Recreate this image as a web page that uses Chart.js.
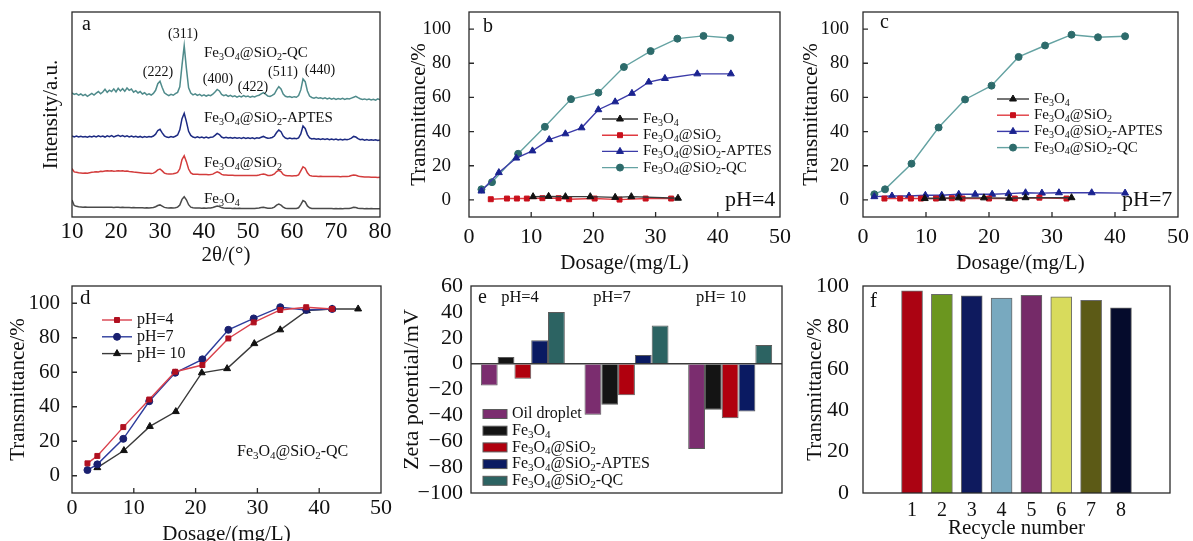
<!DOCTYPE html>
<html>
<head>
<meta charset="utf-8">
<script src="https://cdn.jsdelivr.net/npm/chart.js@4.4.0/dist/chart.umd.min.js"></script>
<style>
  body { margin: 0; background: #fff; width: 1193px; height: 541px; overflow: hidden; position: relative; }
  canvas { position: absolute; }
</style>
</head>
<body>
<canvas id="chartA" width="395" height="280" style="left:0;top:0"></canvas>
<canvas id="chartB" width="395" height="280" style="left:400px;top:0"></canvas>
<canvas id="chartC" width="398" height="280" style="left:795px;top:0"></canvas>
<canvas id="chartD" width="395" height="285" style="left:0;top:270px"></canvas>
<canvas id="chartE" width="395" height="285" style="left:400px;top:270px"></canvas>
<canvas id="chartF" width="398" height="285" style="left:795px;top:270px"></canvas>
<script>
// ---- panel a: XRD patterns (2theta in degrees, stacked intensity) ----
var xrdAngle = [
  10, 10.5, 11, 11.5, 12, 12.5, 13, 13.5, 14, 14.5,
  15, 15.5, 16, 16.5, 17, 17.5, 18, 18.5, 19, 19.5,
  20, 20.5, 21, 21.5, 22, 22.5, 23, 23.5, 24, 24.5,
  25, 25.5, 26, 26.5, 27, 27.5, 28, 28.5, 29, 29.5,
  30, 30.5, 31, 31.5, 32, 32.5, 33, 33.5, 34, 34.5,
  35, 35.5, 36, 36.5, 37, 37.5, 38, 38.5, 39, 39.5,
  40, 40.5, 41, 41.5, 42, 42.5, 43, 43.5, 44, 44.5,
  45, 45.5, 46, 46.5, 47, 47.5, 48, 48.5, 49, 49.5,
  50, 50.5, 51, 51.5, 52, 52.5, 53, 53.5, 54, 54.5,
  55, 55.5, 56, 56.5, 57, 57.5, 58, 58.5, 59, 59.5,
  60, 60.5, 61, 61.5, 62, 62.5, 63, 63.5, 64, 64.5,
  65, 65.5, 66, 66.5, 67, 67.5, 68, 68.5, 69, 69.5,
  70, 70.5, 71, 71.5, 72, 72.5, 73, 73.5, 74, 74.5,
  75, 75.5, 76, 76.5, 77, 77.5, 78, 78.5, 79, 79.5,
  80
];
var xrdQC = [
  60.5, 59.8, 60.2, 59.4, 60.0, 59.2, 59.8, 58.9, 59.6, 60.3,
  59.5, 60.4, 61.2, 60.1, 61.0, 62.3, 60.8, 61.9, 61.2, 62.5,
  61.0, 62.8, 61.5, 62.6, 61.3, 62.9, 61.8, 62.4, 60.9, 61.6,
  60.5, 61.2, 60.0, 60.6, 59.6, 60.1, 59.5, 60.3, 61.8, 65.0,
  66.2, 63.2, 60.6, 59.8, 59.2, 59.8, 59.4, 60.2, 60.8, 63.5,
  74.0, 83.6, 72.5, 63.0, 60.5, 59.6, 60.1, 59.3, 59.8, 59.1,
  59.6, 59.0, 59.5, 59.2, 59.9, 61.0, 62.2, 61.5, 59.8, 59.2,
  59.6, 58.8, 59.3, 58.7, 59.1, 58.5, 59.0, 58.6, 59.2, 58.7,
  59.0, 58.4, 58.9, 58.6, 59.1, 59.4, 60.1, 60.7, 59.9, 59.0,
  58.8, 59.3, 60.0, 62.0, 63.6, 62.5, 60.0, 58.9, 58.5, 58.8,
  58.3, 58.7, 58.4, 59.2, 62.0, 67.3, 66.0, 61.5, 59.0, 58.3,
  58.0, 58.4, 57.9, 58.2, 57.7, 58.1, 57.6, 58.0, 57.5, 57.9,
  57.4, 57.8, 57.5, 57.9, 57.4, 57.8, 57.6, 58.0, 58.4, 58.9,
  58.2, 57.7, 57.3, 57.6, 57.2, 57.5, 57.1, 57.4, 57.0, 57.6,
  57.2
];
var xrdAPTES = [
  39.6, 39.1, 39.5, 39.0, 39.4, 39.0, 39.3, 38.9, 39.4, 39.0,
  39.5, 39.1, 39.6, 39.2, 39.5, 39.0, 39.6, 39.2, 39.7, 39.1,
  39.5, 39.9, 39.3, 39.7, 39.2, 39.6, 39.1, 39.5, 39.0, 39.4,
  38.9, 39.3, 38.8, 39.2, 38.9, 39.3, 39.0, 39.5, 40.4, 42.2,
  42.8, 41.0, 39.6, 39.0, 38.8, 39.2, 38.9, 39.4, 40.0, 42.5,
  48.0, 50.6, 46.5, 41.8, 39.8, 39.0, 38.7, 39.1, 38.7, 39.0,
  38.6, 39.0, 38.6, 38.9, 39.0, 39.8, 40.8, 40.2, 39.0, 38.6,
  38.9, 38.5, 38.8, 38.4, 38.8, 38.4, 38.7, 38.3, 38.7, 38.3,
  38.6, 38.3, 38.6, 38.2, 38.6, 38.4, 38.9, 39.3, 38.8, 38.4,
  38.5, 38.8, 39.5, 41.2, 42.4, 41.6, 39.5, 38.5, 38.2, 38.5,
  38.2, 38.4, 38.2, 38.6, 40.5, 44.4, 43.2, 40.2, 38.6, 38.1,
  38.3, 37.9, 38.2, 37.8, 38.1, 37.8, 38.1, 37.7, 38.0, 37.7,
  38.0, 37.6, 37.9, 37.6, 37.9, 37.7, 38.0, 38.5, 39.3, 39.0,
  38.2, 37.7, 37.9, 37.5, 37.8, 37.4, 37.7, 37.4, 37.7, 37.3,
  37.6
];
var xrdSiO2 = [
  23.6, 22.0, 21.8, 21.6, 21.5, 21.4, 21.5, 21.4, 21.6, 21.8,
  21.9, 22.1, 22.0, 22.3, 22.2, 22.4, 22.6, 22.4, 22.5, 22.3,
  22.4, 22.6, 22.4, 22.6, 22.3, 22.4, 22.2, 22.1, 21.9, 21.8,
  21.7, 21.6, 21.5, 21.4, 21.3, 21.3, 21.2, 21.4, 22.0, 23.0,
  23.4, 22.5, 21.4, 21.1, 21.0, 21.0, 21.1, 21.3, 21.8, 23.5,
  28.0, 29.9, 27.0, 23.4, 21.5, 20.9, 20.8, 20.8, 20.7, 20.7,
  20.7, 20.7, 20.6, 20.7, 20.9, 21.5, 22.0, 21.6, 20.8, 20.5,
  20.5, 20.4, 20.4, 20.4, 20.3, 20.3, 20.3, 20.3, 20.2, 20.3,
  20.2, 20.2, 20.2, 20.2, 20.3, 20.5, 20.8, 21.0, 20.7, 20.3,
  20.3, 20.5, 21.0, 22.2, 22.8, 22.2, 20.8, 20.2, 20.1, 20.1,
  20.0, 20.1, 20.1, 20.5, 22.5, 24.5, 23.8, 21.6, 20.3, 20.0,
  19.9, 19.9, 19.8, 19.9, 19.8, 19.8, 19.7, 19.8, 19.7, 19.7,
  19.7, 19.7, 19.6, 19.7, 19.7, 19.8, 19.9, 20.2, 20.5, 20.4,
  20.0, 19.7, 19.6, 19.5, 19.5, 19.5, 19.4, 19.4, 19.4, 19.3,
  19.4
];
var xrdFe3O4 = [
  8.3, 5.6, 5.2, 5.0, 4.9, 4.8, 4.9, 4.8, 4.8, 4.7,
  4.8, 4.7, 4.7, 4.8, 4.7, 4.7, 4.8, 4.7, 4.7, 4.6,
  4.7, 4.7, 4.6, 4.7, 4.6, 4.6, 4.6, 4.5, 4.6, 4.5,
  4.5, 4.5, 4.5, 4.4, 4.5, 4.4, 4.5, 4.6, 5.0, 5.6,
  5.9, 5.3, 4.7, 4.5, 4.4, 4.5, 4.4, 4.5, 4.8, 5.8,
  8.6, 9.9, 8.4, 6.0, 4.8, 4.5, 4.4, 4.4, 4.4, 4.3,
  4.4, 4.3, 4.4, 4.4, 4.6, 5.0, 5.3, 5.1, 4.6, 4.4,
  4.3, 4.3, 4.3, 4.2, 4.3, 4.2, 4.3, 4.2, 4.2, 4.2,
  4.2, 4.2, 4.2, 4.2, 4.3, 4.4, 4.6, 4.7, 4.5, 4.3,
  4.3, 4.4, 4.8, 5.8, 6.3, 5.8, 4.8, 4.3, 4.2, 4.2,
  4.2, 4.2, 4.2, 4.5, 6.0, 8.0, 7.4, 5.4, 4.5, 4.2,
  4.2, 4.1, 4.2, 4.1, 4.1, 4.1, 4.1, 4.1, 4.1, 4.0,
  4.1, 4.0, 4.1, 4.0, 4.1, 4.1, 4.2, 4.4, 4.7, 4.6,
  4.3, 4.1, 4.1, 4.0, 4.1, 4.0, 4.1, 4.0, 4.0, 4.0,
  4.0
];

// ---- panel b: transmittance vs dosage at pH=4 ----
var bFeDose = [10.3, 12.8, 15.5, 19.5, 23.5, 26.1, 33.6];
var bFeTrans = [1.9, 2.1, 1.9, 1.9, 1.5, 1.9, 1.0];
var bSiDose = [3.5, 6.1, 7.7, 9.3, 11.8, 14.4, 16.1, 20.2, 24.2, 28.4, 32.5];
var bSiTrans = [0.4, 0.8, 0.8, 0.8, 1.0, 1.0, 0.4, 0.8, 0.2, 0.8, 0.8];
var bApDose = [2.0, 4.8, 7.6, 10.2, 12.9, 15.5, 18.1, 20.8, 23.5, 26.2, 28.9, 31.5, 36.7, 42.1];
var bApTrans = [5.2, 16.0, 24.5, 28.7, 35.3, 38.7, 42.2, 52.8, 57.4, 62.4, 69.0, 71.1, 73.8, 73.8];
var bQcDose = [2.0, 3.7, 7.9, 12.2, 16.4, 20.8, 24.9, 29.2, 33.5, 37.7, 42.0];
var bQcTrans = [6.2, 10.4, 27.0, 42.8, 59.0, 62.8, 77.8, 87.1, 94.4, 96.0, 94.8];

// ---- panel c: transmittance vs dosage at pH=7 ----
var cFeDose = [9.8, 12.6, 15.2, 19.2, 23.2, 25.8, 33.1];
var cFeTrans = [0.8, 1.0, 1.2, 1.2, 1.0, 1.3, 1.3];
var cSiDose = [3.4, 5.9, 7.6, 9.2, 11.6, 14.1, 15.8, 20.0, 24.1, 28.0, 32.3];
var cSiTrans = [0.8, 0.8, 0.8, 0.8, 0.8, 1.0, 0.8, 0.8, 0.8, 1.3, 0.8];
var cApDose = [1.8, 4.6, 7.3, 9.9, 12.5, 15.2, 17.8, 20.5, 23.1, 25.8, 28.4, 31.1, 36.3, 41.6];
var cApTrans = [1.9, 2.3, 2.3, 2.7, 2.7, 3.3, 3.3, 3.3, 3.7, 4.2, 4.0, 4.2, 4.2, 4.0];
var cQcDose = [1.8, 3.5, 7.7, 12.0, 16.2, 20.4, 24.7, 28.9, 33.1, 37.3, 41.6];
var cQcTrans = [3.3, 6.2, 21.2, 42.4, 58.8, 66.9, 83.7, 90.4, 96.7, 95.2, 95.8];

// ---- panel d: Fe3O4@SiO2-QC at three pH values ----
var dDose = [2.5, 4.1, 8.3, 12.5, 16.7, 21.1, 25.3, 29.4, 33.7, 37.9, 42.1];
var dPH4 = [7.2, 11.5, 28.2, 44.2, 60.3, 64.2, 79.6, 88.9, 96.1, 97.7, 96.7];
var dPH7 = [3.3, 6.6, 21.4, 43.2, 59.7, 67.5, 84.6, 91.2, 97.7, 96.1, 96.7];
var dDose10 = [4.1, 8.4, 12.6, 16.8, 21.0, 25.1, 29.5, 33.7, 38.0, 42.1, 46.3];
var dPH10 = [4.7, 14.6, 28.6, 37.2, 59.7, 62.1, 76.6, 84.6, 95.7, 96.7, 96.7];

// ---- panel e: zeta potential (mV) ----
var zetaGroups = ['pH=4', 'pH=7', 'pH= 10'];
var zetaOil = [-17, -39.5, -66];
var zetaFe = [5.2, -31.7, -35.6];
var zetaSi = [-11.7, -24.4, -42.3];
var zetaAp = [18, 6.7, -37.1];
var zetaQc = [40, 29.4, 14.3];

// ---- panel f: recycling ----
var recycleNo = [1, 2, 3, 4, 5, 6, 7, 8];
var recycleTrans = [97.7, 96.0, 95.3, 94.2, 95.5, 94.8, 93.1, 89.5];

var SERIF = '"Liberation Serif", "Times New Roman", serif';
Chart.defaults.font.family = SERIF;
Chart.defaults.color = '#111';
Chart.defaults.animation = false;
Chart.defaults.responsive = false;
Chart.defaults.devicePixelRatio = 1;
Chart.defaults.plugins.legend.display = false;
Chart.defaults.plugins.tooltip.enabled = false;

function pts(xs, ys) {
  return xs.map(function (x, i) { return { x: x, y: ys[i] }; });
}

// draws text where "_3" means subscript 3
function richText(ctx, str, x, y, size, align) {
  var parts = [];
  for (var i = 0; i < str.length; i++) {
    if (str[i] === '_') { parts.push({ t: str[++i], sub: true }); }
    else if (parts.length && !parts[parts.length - 1].sub) { parts[parts.length - 1].t += str[i]; }
    else { parts.push({ t: str[i], sub: false }); }
  }
  var big = size + 'px ' + SERIF, small = Math.round(size * 0.66) + 'px ' + SERIF;
  var w = 0;
  parts.forEach(function (p) { ctx.font = p.sub ? small : big; p.w = ctx.measureText(p.t).width; w += p.w; });
  var cx = align === 'center' ? x - w / 2 : x;
  ctx.textAlign = 'left';
  ctx.textBaseline = 'middle';
  parts.forEach(function (p) {
    ctx.font = p.sub ? small : big;
    ctx.fillText(p.t, cx, p.sub ? y + size * 0.26 : y);
    cx += p.w;
  });
}

// box round the plot area plus inward tick marks
var framePlugin = {
  id: 'frame',
  afterDatasetsDraw: function (chart, args, o) {
    var ctx = chart.ctx, a = chart.chartArea;
    ctx.save();
    ctx.strokeStyle = '#2a2a2a';
    ctx.lineWidth = 1.3;
    ctx.strokeRect(a.left, a.top, a.right - a.left, a.bottom - a.top);
    if (o.ticks) {
      var xs = chart.scales.x, ys = chart.scales.y;
      ctx.beginPath();
      xs.ticks.forEach(function (t) {
        var p = xs.getPixelForValue(t.value);
        if (p > a.left + 2 && p < a.right - 2) { ctx.moveTo(p, a.bottom); ctx.lineTo(p, a.bottom - 5); }
      });
      ys.ticks.forEach(function (t) {
        var p = ys.getPixelForValue(t.value);
        if (p > a.top + 2 && p < a.bottom - 2) { ctx.moveTo(a.left, p); ctx.lineTo(a.left + 5, p); }
      });
      ctx.stroke();
    }
    ctx.restore();
  }
};

// free text labels (panel letters, peak indices, pH notes)
var notesPlugin = {
  id: 'notes',
  afterDraw: function (chart, args, o) {
    if (!o.items) return;
    var ctx = chart.ctx;
    ctx.save();
    ctx.fillStyle = '#111';
    o.items.forEach(function (n) { richText(ctx, n.t, n.x, n.y, n.s, n.a || 'left'); });
    ctx.restore();
  }
};

// legend drawn inside the plot area
var keyPlugin = {
  id: 'key',
  afterDraw: function (chart, args, o) {
    if (!o.kind) return;
    var ctx = chart.ctx;
    ctx.save();
    chart.data.datasets.forEach(function (ds, i) {
      var y = o.y + i * o.dy;
      if (o.kind === 'line') {
        ctx.strokeStyle = ds.borderColor;
        ctx.lineWidth = ds.borderWidth;
        ctx.beginPath(); ctx.moveTo(o.x, y); ctx.lineTo(o.x + o.len, y); ctx.stroke();
        ctx.fillStyle = ds.pointBackgroundColor;
        ctx.strokeStyle = ds.pointBorderColor;
        ctx.lineWidth = 1;
        Chart.helpers.drawPoint(ctx, { pointStyle: ds.pointStyle, radius: ds.pointRadius, borderWidth: 1, rotation: 0 }, o.x + o.len / 2, y);
      } else {
        ctx.fillStyle = ds.backgroundColor;
        ctx.fillRect(o.x, y - o.h / 2, o.len, o.h);
        ctx.strokeStyle = ds.borderColor;
        ctx.lineWidth = 1;
        ctx.strokeRect(o.x, y - o.h / 2, o.len, o.h);
      }
      ctx.fillStyle = '#111';
      richText(ctx, ds.label, o.x + o.len + o.gap, y, o.size, 'left');
    });
    ctx.restore();
  }
};

var allPlugins = [framePlugin, notesPlugin, keyPlugin];

function yAxis(o) {
  return {
    type: 'linear', position: 'left', min: o.min, max: o.max,
    grid: { display: false }, border: { display: false },
    ticks: {
      display: o.size > 0, font: { size: o.size || 12 }, padding: o.pad || 0, stepSize: o.step, color: '#111', autoSkip: false,
      callback: function (v) { return String(v).replace('-', '\u2212'); }
    },
    title: { display: true, text: o.title, color: '#111', font: { size: o.tsize, lineHeight: 1 }, padding: { top: o.tpad, bottom: 0 } },
    afterBuildTicks: function (s) { if (o.list) s.ticks = o.list.map(function (v) { return { value: v }; }); },
    afterFit: function (s) { s.width = o.w; s.paddingTop = 0; s.paddingBottom = 0; }
  };
}

function xAxis(o) {
  return {
    type: 'linear', position: 'bottom', min: o.min, max: o.max,
    grid: { display: false }, border: { display: false },
    ticks: { font: { size: o.size }, padding: o.pad, stepSize: o.step, color: '#111', maxRotation: 0, autoSkip: false },
    title: { display: true, text: o.title, color: '#111', font: { size: o.tsize, lineHeight: 1 }, padding: { top: 0, bottom: o.tpad } },
    afterBuildTicks: function (s) { if (o.list) s.ticks = o.list.map(function (v) { return { value: v }; }); },
    afterFit: function (s) { s.height = o.h; s.paddingLeft = 0; s.paddingRight = 0; }
  };
}

function series(label, xs, ys, line, point, style, r) {
  return {
    label: label, data: pts(xs, ys), borderColor: line, borderWidth: 1.4,
    pointStyle: style, pointRadius: r, pointBackgroundColor: point, pointBorderColor: point,
    pointBorderWidth: 1, tension: 0
  };
}

function xrdLine(label, ys, color) {
  return { label: label, data: pts(xrdAngle, ys), borderColor: color, borderWidth: 1.5, pointRadius: 0, tension: 0 };
}

var labelFe = 'Fe_3O_4', labelSi = 'Fe_3O_4@SiO_2', labelAp = 'Fe_3O_4@SiO_2-APTES', labelQc = 'Fe_3O_4@SiO_2-QC';
var transTicks = [0, 20, 40, 60, 80, 100];

// panel a
new Chart(document.getElementById('chartA'), {
  type: 'line',
  data: {
    datasets: [
      xrdLine(labelQc, xrdQC, '#4f8b8b'),
      xrdLine(labelAp, xrdAPTES, '#1c2a82'),
      xrdLine(labelSi, xrdSiO2, '#d33c3c'),
      xrdLine(labelFe, xrdFe3O4, '#4a4a4a')
    ]
  },
  options: {
    layout: { padding: { top: 12, right: 15, left: 0, bottom: 0 } },
    scales: {
      x: xAxis({ min: 10, max: 80, step: 10, size: 23, pad: -7, title: '2\u03b8/(\u00b0)', tsize: 21, tpad: 14, h: 63 }),
      y: yAxis({ min: 0, max: 100, size: 0, title: 'Intensity/a.u.', tsize: 21, tpad: 41, w: 72 })
    },
    plugins: {
      frame: { ticks: false },
      notes: {
        items: [
          { t: 'a', x: 82, y: 25, s: 20 },
          { t: '(311)', x: 183, y: 34, s: 14, a: 'center' },
          { t: '(222)', x: 158, y: 72, s: 14, a: 'center' },
          { t: '(400)', x: 218, y: 79, s: 14, a: 'center' },
          { t: '(422)', x: 253, y: 87, s: 14, a: 'center' },
          { t: '(511)', x: 283, y: 72, s: 14, a: 'center' },
          { t: '(440)', x: 320, y: 70, s: 14, a: 'center' },
          { t: labelQc, x: 204, y: 53, s: 15 },
          { t: labelAp, x: 204, y: 118, s: 15 },
          { t: labelSi, x: 204, y: 163, s: 15 },
          { t: labelFe, x: 204, y: 199, s: 15 }
        ]
      }
    }
  },
  plugins: allPlugins
});

// panel b
new Chart(document.getElementById('chartB'), {
  type: 'line',
  data: {
    datasets: [
      series(labelFe, bFeDose, bFeTrans, '#3a3a3a', '#111111', 'triangle', 4),
      series(labelSi, bSiDose, bSiTrans, '#e03a40', '#c8101c', 'rect', 3.5),
      series(labelAp, bApDose, bApTrans, '#3b3ba8', '#1a2390', 'triangle', 4),
      series(labelQc, bQcDose, bQcTrans, '#64a2a2', '#2d6b6b', 'circle', 3.5)
    ]
  },
  options: {
    layout: { padding: { top: 12, right: 15, left: 0, bottom: 0 } },
    scales: {
      x: xAxis({ min: 0, max: 50, step: 10, size: 22, pad: -1, title: 'Dosage/(mg/L)', tsize: 21, tpad: 6, h: 63 }),
      y: yAxis({ min: -10, max: 110, list: transTicks, size: 19, pad: 10, title: 'Transmittance/%', tsize: 21, tpad: 9, w: 69 })
    },
    plugins: {
      frame: { ticks: true },
      key: { kind: 'line', x: 202, y: 119, dy: 16.2, len: 36, gap: 5, size: 15 },
      notes: {
        items: [
          { t: 'b', x: 83, y: 27, s: 20 },
          { t: 'pH=4', x: 325, y: 200, s: 22 }
        ]
      }
    }
  },
  plugins: allPlugins
});

// panel c
new Chart(document.getElementById('chartC'), {
  type: 'line',
  data: {
    datasets: [
      series(labelFe, cFeDose, cFeTrans, '#3a3a3a', '#111111', 'triangle', 4),
      series(labelSi, cSiDose, cSiTrans, '#e03a40', '#c8101c', 'rect', 3.5),
      series(labelAp, cApDose, cApTrans, '#3b3ba8', '#1a2390', 'triangle', 4),
      series(labelQc, cQcDose, cQcTrans, '#64a2a2', '#2d6b6b', 'circle', 3.5)
    ]
  },
  options: {
    layout: { padding: { top: 12, right: 15, left: 0, bottom: 0 } },
    scales: {
      x: xAxis({ min: 0, max: 50, step: 10, size: 22, pad: -1, title: 'Dosage/(mg/L)', tsize: 21, tpad: 6, h: 63 }),
      y: yAxis({ min: -10, max: 110, list: transTicks, size: 19, pad: 6, title: 'Transmittance/%', tsize: 21, tpad: 6, w: 68 })
    },
    plugins: {
      frame: { ticks: true },
      key: { kind: 'line', x: 202, y: 99, dy: 16.2, len: 32, gap: 5, size: 15 },
      notes: {
        items: [
          { t: 'c', x: 85, y: 23, s: 20 },
          { t: 'pH=7', x: 327, y: 200, s: 22 }
        ]
      }
    }
  },
  plugins: allPlugins
});

// panel d
new Chart(document.getElementById('chartD'), {
  type: 'line',
  data: {
    datasets: [
      series('pH=4', dDose, dPH4, '#d9404c', '#b01020', 'rect', 3.5),
      series('pH=7', dDose, dPH7, '#2d3c9c', '#1a2070', 'circle', 3.5),
      series('pH= 10', dDose10, dPH10, '#3a3a3a', '#111111', 'triangle', 4)
    ]
  },
  options: {
    layout: { padding: { top: 16, right: 14, left: 0, bottom: 0 } },
    scales: {
      x: xAxis({ min: 0, max: 50, step: 10, size: 22, pad: -6, title: 'Dosage/(mg/L)', tsize: 21, tpad: 10, h: 62 }),
      y: yAxis({ min: -10, max: 110, list: transTicks, size: 21, pad: 4, title: 'Transmittance/%', tsize: 21, tpad: 8, w: 72 })
    },
    plugins: {
      frame: { ticks: true },
      key: { kind: 'line', x: 102, y: 50, dy: 16.8, len: 30, gap: 5, size: 16 },
      notes: {
        items: [
          { t: 'd', x: 80, y: 28, s: 21 },
          { t: labelQc, x: 237, y: 182, s: 16 }
        ]
      }
    }
  },
  plugins: allPlugins
});

// panel e
function zetaSet(label, values, color) {
  return { label: label, data: values, backgroundColor: color, borderColor: '#5a5a5a', borderWidth: 1 };
}
new Chart(document.getElementById('chartE'), {
  type: 'bar',
  data: {
    labels: zetaGroups,
    datasets: [
      zetaSet('Oil droplet', zetaOil, '#7b2d6f'),
      zetaSet(labelFe, zetaFe, '#141414'),
      zetaSet(labelSi, zetaSi, '#b0000e'),
      zetaSet(labelAp, zetaAp, '#0a1a62'),
      zetaSet(labelQc, zetaQc, '#2c6362')
    ]
  },
  options: {
    layout: { padding: { top: 16, right: 13, left: 0, bottom: 62 } },
    datasets: { bar: { barPercentage: 1, categoryPercentage: 0.81 } },
    scales: {
      x: { type: 'category', display: false },
      y: {
        type: 'linear', position: 'left', min: -100, max: 60,
        grid: {
          drawTicks: false, lineWidth: 1.5,
          color: function (c) { return c.tick && c.tick.value === 0 ? '#3a3a3a' : 'rgba(0,0,0,0)'; }
        },
        border: { display: false },
        ticks: {
          stepSize: 20, font: { size: 22 }, padding: 8, color: '#111', autoSkip: false,
          callback: function (v) { return String(v).replace('-', '\u2212'); }
        },
        title: { display: true, text: 'Zeta potential/mV', color: '#111', font: { size: 22, lineHeight: 1 }, padding: { top: 1, bottom: 0 } },
        afterFit: function (s) { s.width = 71; s.paddingTop = 0; s.paddingBottom = 0; }
      }
    },
    plugins: {
      frame: { ticks: false },
      key: { kind: 'box', x: 83, y: 144, dy: 16.7, len: 24, h: 9, gap: 5, size: 16 },
      notes: {
        items: [
          { t: 'e', x: 78, y: 28, s: 20 },
          { t: 'pH=4', x: 120, y: 28, s: 16.5, a: 'center' },
          { t: 'pH=7', x: 212, y: 28, s: 16.5, a: 'center' },
          { t: 'pH= 10', x: 321, y: 28, s: 16.5, a: 'center' }
        ]
      }
    }
  },
  plugins: allPlugins
});

// panel f
new Chart(document.getElementById('chartF'), {
  type: 'bar',
  data: {
    datasets: [{
      label: 'Transmittance',
      data: pts(recycleNo, recycleTrans),
      backgroundColor: ['#ab0312', '#6b961f', '#0e1a5e', '#78a9bf', '#752a68', '#d8db5c', '#5c5a16', '#050b2c'],
      borderColor: '#6a6a6a',
      borderWidth: 1,
      barThickness: 21
    }]
  },
  options: {
    layout: { padding: { top: 16, right: 23, left: 0, bottom: 0 } },
    scales: {
      x: xAxis({ min: 0, max: 9, list: recycleNo, size: 20, pad: -2, title: 'Recycle number', tsize: 21, tpad: 16, h: 62 }),
      y: yAxis({ min: 0, max: 100, step: 20, size: 22, pad: 6, title: 'Transmittance/%', tsize: 21, tpad: 10, w: 68 })
    },
    plugins: {
      frame: { ticks: false },
      notes: { items: [{ t: 'f', x: 75, y: 31, s: 21 }] }
    }
  },
  plugins: allPlugins
});
</script>
</body>
</html>
